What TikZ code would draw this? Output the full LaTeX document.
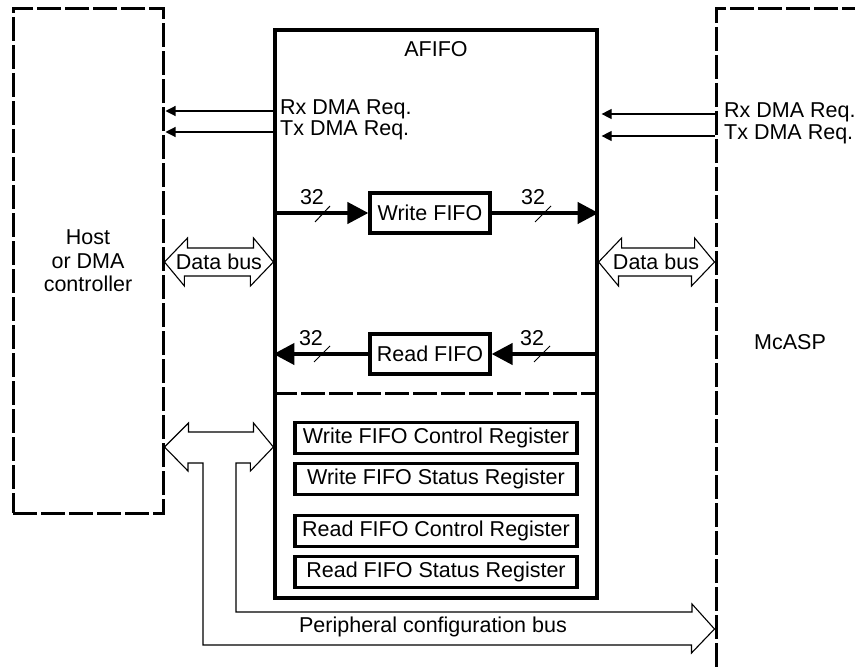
\documentclass[tikz,border=0pt]{standalone}
\usepackage{fontspec}
\setmainfont{Liberation Sans}
\usetikzlibrary{arrows.meta}
\tikzset{dashbox/.style={draw,line width=3pt,dash pattern={on 24pt off 4pt}},
    solidbox/.style={draw,line width=3.2pt},
    regbox/.style={draw,line width=3.2pt,minimum width=282pt,minimum height=31pt},
    reqarrow/.style={line width=1.1pt,-{Triangle[length=10pt,width=10pt]}},
    wordbus/.style={line width=4.2pt,-{Triangle[length=21pt,width=21pt]}},
    busoutline/.style={draw,line width=1.1pt,line join=miter},
    tick/.style={line width=1pt}}

\begin{document}
\begin{tikzpicture}[x=1pt,y=1pt,yscale=-1,xscale=1,
    every node/.style={font=\fontsize{21.5}{23.5}\selectfont,inner sep=0pt}]
\useasboundingbox (0,0) rectangle (855,669);
\clip (0,0) rectangle (855,669);

%Blocks
\node [dashbox,minimum width=150pt,minimum height=504pt,align=center] (host) at (88,261) {Host\\or DMA\\controller};
\node [dashbox,minimum width=148pt,minimum height=666pt] (mcasp) at (790,342) {McASP};
\node [solidbox,minimum width=322pt,minimum height=568pt] (afifo) at (436,314) {};
\node (afifolbl) at (436,49) {AFIFO};
\coordinate (split) at (436,393);
\draw [dashbox] (afifo.west |- split) -- (afifo.east |- split);

%DMA requests
\node [anchor=west] (rxl) at (280,109) {Rx DMA Req.};
\node [anchor=west] (txl) at (280,130) {Tx DMA Req.};
\node [anchor=west] (rxr) at (724,112) {Rx DMA Req.};
\node [anchor=west] (txr) at (724,134) {Tx DMA Req.};
\draw [reqarrow,shorten >=1pt] ([yshift=2pt]afifo.west |- rxl) -- ([yshift=2pt]host.east |- rxl);
\draw [reqarrow,shorten >=1pt] ([yshift=2pt]afifo.west |- txl) -- ([yshift=2pt]host.east |- txl);
\draw [reqarrow,shorten >=3pt] ([yshift=2pt]mcasp.west |- rxr) -- ([yshift=2pt]afifo.east |- rxr);
\draw [reqarrow,shorten >=3pt] ([yshift=2pt]mcasp.west |- txr) -- ([yshift=2pt]afifo.east |- txr);

%FIFOs
\node [solidbox,minimum width=120pt,minimum height=40pt] (wfifo) at (430,213) {Write FIFO};
\node [solidbox,minimum width=120pt,minimum height=40pt] (rfifo) at (430,354) {Read FIFO};
\draw [wordbus] (afifo.west |- wfifo) -- (wfifo.west);
\draw [wordbus] (wfifo.east) -- (afifo.east |- wfifo);
\draw [wordbus] (afifo.east |- rfifo) -- (rfifo.east);
\draw [wordbus] (rfifo.west) -- (afifo.west |- rfifo);

% Bus width
\node (wbin) at (312,197) {32};
\node (wbout) at (533,197) {32};
\node (rbout) at (311,338) {32};
\node (rbin) at (532,338) {32};
\draw [tick] (315,222) -- (330,206);
\draw [tick] (535,222) -- (551,206);
\draw [tick] (314,362) -- (330,346);
\draw [tick] (534,362) -- (550,346);

%Data buses
\node (dbl) at (219,262) {Data bus};
\node (dbr) at (656,262) {Data bus};
\draw [busoutline] (host.east |- dbl) -- ++(23,-24) -- ++(0,10) -- ++(66,0) -- ++(0,-10) -- (afifo.west |- dbl) -- ++(-23,24) -- ++(0,-10) -- ++(-66,0) -- ++(0,10) -- cycle;
\draw [busoutline] (afifo.east |- dbr) -- ++(23,-24) -- ++(0,10) -- ++(73,0) -- ++(0,-10) -- (mcasp.west |- dbr) -- ++(-23,24) -- ++(0,-10) -- ++(-73,0) -- ++(0,10) -- cycle;

%Registers
\node [regbox] (wfcr) at (436,438) {Write FIFO Control Register};
\node [regbox] (wfsr) at (436,479) {Write FIFO Status Register};
\node [regbox] (rfcr) at (436,531) {Read FIFO Control Register};
\node [regbox] (rfsr) at (436,572) {Read FIFO Status Register};

%Peripheral configuration bus
\coordinate (cfg) at (0,447);
\coordinate (cfgm) at (0,629);
\draw [busoutline] (host.east |- cfg) -- ++(24,-24) -- ++(0,9) -- ++(65,0) -- ++(0,-9) -- (afifo.west |- cfg) -- ++(-23,24) -- ++(0,-8) -- (236,463) -- (236,612) -- (692,612) -- ++(0,-8) -- (mcasp.west |- cfgm) -- ++(-23,24) -- ++(0,-8) -- (203,645) -- (203,463) -- (188,463) -- ++(0,8) -- cycle;
\node (cfglbl) at (433,627) {Peripheral configuration bus};

\end{tikzpicture}
\end{document}
